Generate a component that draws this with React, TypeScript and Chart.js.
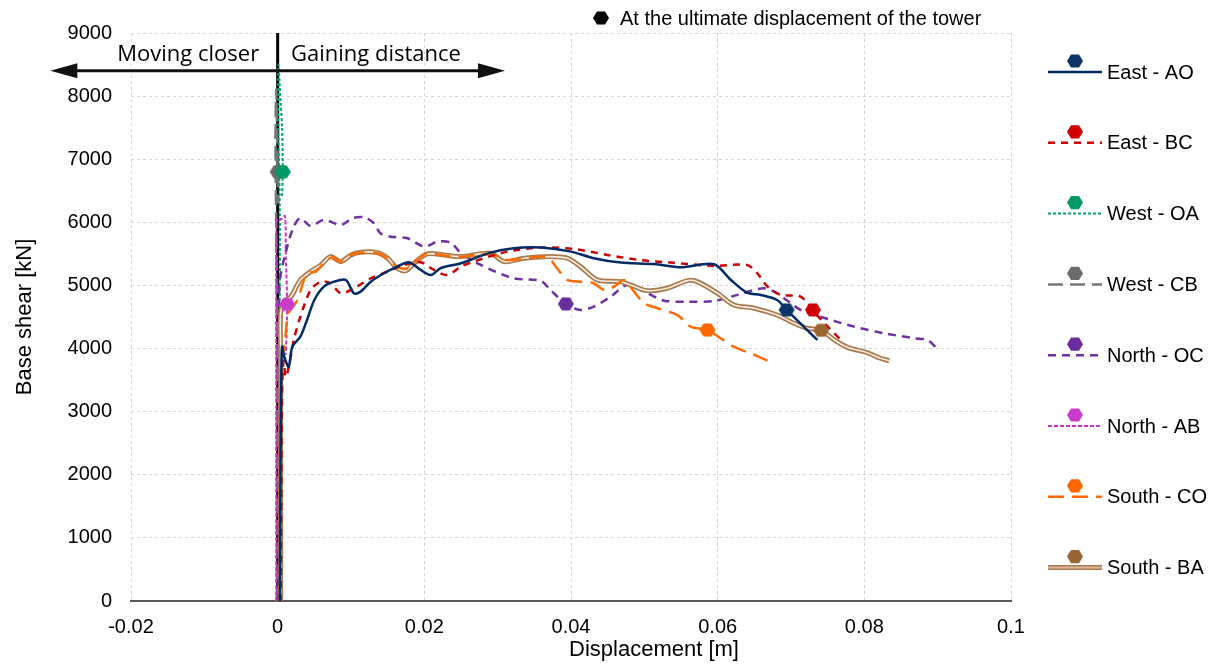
import React, { useEffect, useRef } from "react";
import { Chart, registerables } from "chart.js";
Chart.register(...registerables);

type Pt = [number, number];

const xTicks = [-0.02, 0, 0.02, 0.04, 0.06, 0.08, 0.1];
const yTicks = [0, 1000, 2000, 3000, 4000, 5000, 6000, 7000, 8000, 9000];

const seriesNames = ["East - AO", "East - BC", "West - OA", "West - CB", "North - OC", "North - AB", "South - CO", "South - BA"];

const eastAO: Pt[] = [[0.0003,0],[0.0004,2500],[0.0005,3600],[0.0006,4030],[0.0009,3870],[0.0015,3713],[0.002,4030],[0.0031,4190],[0.004,4453],[0.005,4770],[0.0063,4981],[0.0077,5060],[0.0093,5087],[0.0104,4876],[0.0113,4902],[0.0127,5060],[0.0145,5193],[0.0163,5298],[0.0179,5368],[0.0195,5246],[0.0209,5166],[0.0222,5272],[0.025,5352],[0.029,5520],[0.0322,5590],[0.0359,5600],[0.04,5536],[0.0431,5431],[0.0468,5362],[0.0513,5340],[0.055,5288],[0.0595,5336],[0.0618,5087],[0.064,4886],[0.0659,4850],[0.0681,4770],[0.0694,4612],[0.0736,4136]];
const eastBC: Pt[] = [[0.0004,0],[0.0005,2000],[0.0006,3300],[0.0008,3800],[0.0011,3550],[0.0015,3700],[0.0022,4136],[0.0031,4505],[0.0045,4929],[0.0059,5060],[0.0072,5035],[0.0086,4876],[0.0104,4955],[0.0127,5114],[0.015,5219],[0.0172,5325],[0.0195,5368],[0.0213,5246],[0.0231,5166],[0.025,5298],[0.0267,5377],[0.0313,5536],[0.0359,5600],[0.0404,5578],[0.045,5483],[0.0495,5400],[0.0536,5362],[0.0595,5310],[0.064,5325],[0.0654,5193],[0.0668,4981],[0.0686,4850],[0.0713,4822],[0.0729,4612],[0.075,4347],[0.0768,4136]];
const westOA: Pt[] = [[0.0002,0],[0.0002,3000],[0.0003,6000],[0.0001,7500],[0.0001,8500],[0.0004,7900],[0.0006,7500],[0.0007,6800],[0.0006,6400]];
const westCB: Pt[] = [[-0.0001,0],[-0.0001,4000],[-0.0002,6000],[-0.0003,7200],[-0.0002,8100],[-0.0001,7500],[0,6800],[0.0001,6300]];
const northOC: Pt[] = [[0.0001,0],[0.0002,3000],[0.0002,4500],[0.0003,5087],[0.0013,5615],[0.0022,5932],[0.0031,6065],[0.0045,5943],[0.0063,6038],[0.0086,5959],[0.0102,6065],[0.0118,6081],[0.0131,5986],[0.014,5827],[0.0154,5773],[0.0177,5748],[0.02,5615],[0.0218,5694],[0.0236,5678],[0.025,5510],[0.0277,5325],[0.0322,5114],[0.0359,5071],[0.0372,4929],[0.0393,4707],[0.0413,4612],[0.0431,4664],[0.0454,4822],[0.0477,5008],[0.0504,4876],[0.0527,4759],[0.0559,4743],[0.0595,4754],[0.0627,4850],[0.0663,4955],[0.0681,4876],[0.0713,4612],[0.074,4505],[0.0786,4347],[0.0827,4242],[0.0868,4163],[0.0886,4136],[0.09,3989]];
const northAB: Pt[] = [[-0.0002,0],[-0.0002,3000],[-0.0002,5000],[-0.0001,6050],[0.0005,6050],[0.001,6100],[0.0011,5500],[0.0013,4700],[0.0012,4200],[0.0011,3900]];
const southCO: Pt[] = [[0.0003,0],[0.0003,2500],[0.0004,3500],[0.0011,4242],[0.0015,4559],[0.0027,4770],[0.004,5193],[0.0052,5219],[0.0065,5377],[0.0075,5447],[0.0086,5377],[0.01,5483],[0.0113,5520],[0.0136,5510],[0.015,5431],[0.0163,5298],[0.0177,5272],[0.019,5404],[0.0204,5510],[0.0222,5483],[0.0245,5447],[0.0268,5483],[0.029,5499],[0.0313,5404],[0.034,5431],[0.0368,5447],[0.0381,5272],[0.0395,5087],[0.0413,5060],[0.0431,5035],[0.0445,4929],[0.0459,4981],[0.0472,5087],[0.0486,4902],[0.05,4718],[0.0518,4639],[0.0545,4532],[0.0563,4347],[0.0586,4295],[0.0604,4163],[0.0622,4030],[0.065,3899],[0.0668,3808]];
const southBA: Pt[] = [[0.0004,0],[0.0004,2500],[0.0004,4000],[0.0004,4564],[0.0009,4750],[0.0018,4822],[0.0031,5087],[0.0045,5219],[0.0059,5325],[0.0072,5457],[0.0086,5377],[0.01,5483],[0.0113,5526],[0.0136,5520],[0.015,5431],[0.0163,5272],[0.0175,5235],[0.0186,5352],[0.0204,5499],[0.0227,5483],[0.025,5457],[0.029,5510],[0.0309,5377],[0.0336,5431],[0.0372,5457],[0.0395,5431],[0.0413,5298],[0.0436,5087],[0.0468,5060],[0.0481,5008],[0.0504,4918],[0.0531,4955],[0.0559,5076],[0.0572,5060],[0.06,4876],[0.0622,4691],[0.065,4639],[0.0681,4532],[0.0704,4401],[0.0722,4322],[0.0741,4290],[0.0759,4136],[0.0777,4020],[0.0804,3935],[0.0822,3846],[0.0834,3808]];

const ultimateX = [0.0694, 0.073, 0.0007, 0, 0.0393, 0.0013, 0.0586, 0.0741];
const ultimateY = [4612, 4612, 6800, 6800, 4707, 4700, 4295, 4290];

const lineColors = ["#002b66", "#cc0000", "#00a36c", "#777777", "#7030a0", "#cc33cc", "#ff6a00", "#a87a4c"];
const markerColors = ["#0b3467", "#d00000", "#009966", "#6b6b6b", "#6a2d9e", "#cc3acc", "#ff6600", "#996633"];
const lineDashes: number[][] = [[], [7, 6], [3, 2], [15, 7], [8, 6], [4, 2], [16, 8], []];
const lineWidths = [2.5, 2.5, 2, 2.5, 2.5, 2, 2.5, 5];
const brownInner = "#f6ede4";

const arrowY = 8400;
const arrowLeft = -0.031;
const arrowRight = 0.031;
const leftLabel = "Moving closer";
const rightLabel = "Gaining distance";
const leftLabelX = -0.0122;
const rightLabelX = 0.0134;
const labelY = 8560;
const topLegendText = "At the ultimate displacement of the tower";
const xTitle = "Displacement [m]";
const yTitle = "Base shear [kN]";

const FONT = "'Liberation Sans', Arial, sans-serif";

function hexPath(g: CanvasRenderingContext2D, cx: number, cy: number, r: number) {
  g.beginPath();
  for (let i = 0; i < 6; i++) {
    const a = (Math.PI / 3) * i;
    const px = cx + r * Math.cos(a);
    const py = cy + r * Math.sin(a) * 0.95;
    if (i === 0) g.moveTo(px, py);
    else g.lineTo(px, py);
  }
  g.closePath();
}

function hexImage(color: string) {
  const c = document.createElement("canvas");
  c.width = 20;
  c.height = 20;
  const g = c.getContext("2d")!;
  hexPath(g, 10, 10, 8);
  g.fillStyle = color;
  g.fill();
  return c;
}

const allSeries = [eastAO, eastBC, westOA, westCB, northOC, northAB, southCO, southBA];

const overlayPlugin = {
  id: "overlay",
  beforeDatasetsDraw(chart: any) {
    const { ctx, scales } = chart;
    const x = scales.x, y = scales.y;
    ctx.save();
    ctx.strokeStyle = "#000";
    ctx.lineWidth = 3;
    ctx.beginPath();
    ctx.moveTo(x.getPixelForValue(0), y.getPixelForValue(0));
    ctx.lineTo(x.getPixelForValue(0), y.getPixelForValue(9000));
    ctx.stroke();
    ctx.restore();
  },
  afterDraw(chart: any) {
    const { ctx, scales, chartArea } = chart;
    const x = scales.x, y = scales.y;
    ctx.save();
    // double arrow
    const ay = y.getPixelForValue(arrowY);
    const x1 = x.getPixelForValue(arrowLeft);
    const x2 = x.getPixelForValue(arrowRight);
    const head = 27, hh = 7.5;
    ctx.strokeStyle = "#111";
    ctx.fillStyle = "#111";
    ctx.lineWidth = 3;
    ctx.beginPath();
    ctx.moveTo(x1 + head - 2, ay);
    ctx.lineTo(x2 - head + 2, ay);
    ctx.stroke();
    ctx.beginPath();
    ctx.moveTo(x1, ay);
    ctx.lineTo(x1 + head, ay - hh);
    ctx.lineTo(x1 + head, ay + hh);
    ctx.closePath();
    ctx.fill();
    ctx.beginPath();
    ctx.moveTo(x2, ay);
    ctx.lineTo(x2 - head, ay - hh);
    ctx.lineTo(x2 - head, ay + hh);
    ctx.closePath();
    ctx.fill();
    // labels
    ctx.font = "22px 'Open Sans', sans-serif";
    ctx.textAlign = "center";
    ctx.textBaseline = "alphabetic";
    ctx.fillStyle = "#000";
    const ly = y.getPixelForValue(labelY);
    ctx.fillText(leftLabel, x.getPixelForValue(leftLabelX), ly);
    ctx.fillText(rightLabel, x.getPixelForValue(rightLabelX), ly);

    // x axis title
    ctx.font = "22px " + FONT;
    ctx.textAlign = "center";
    ctx.textBaseline = "middle";
    ctx.fillText(xTitle, 654, 650);

    // top legend
    ctx.fillStyle = "#000";
    hexPath(ctx, 601, 18, 8);
    ctx.fill();
    ctx.font = "20px " + FONT;
    ctx.textAlign = "left";
    ctx.textBaseline = "middle";
    ctx.fillText(topLegendText, 620, 19);

    // right legend
    const r = chartArea.right;
    for (let i = 0; i < seriesNames.length; i++) {
      const ly2 = 72 + 70.8 * i;
      const lx1 = r + 37, lx2 = r + 91;
      ctx.save();
      ctx.lineCap = "butt";
      if (i === 7) {
        ctx.strokeStyle = lineColors[7];
        ctx.lineWidth = 5;
        ctx.beginPath(); ctx.moveTo(lx1, ly2); ctx.lineTo(lx2, ly2); ctx.stroke();
        ctx.strokeStyle = "#d9b99a";
        ctx.lineWidth = 2;
        ctx.beginPath(); ctx.moveTo(lx1, ly2); ctx.lineTo(lx2, ly2); ctx.stroke();
      } else {
        ctx.strokeStyle = lineColors[i];
        ctx.lineWidth = lineWidths[i];
        ctx.setLineDash(lineDashes[i]);
        ctx.beginPath(); ctx.moveTo(lx1, ly2); ctx.lineTo(lx2, ly2); ctx.stroke();
      }
      ctx.restore();
      ctx.fillStyle = markerColors[i];
      hexPath(ctx, r + 64, ly2 - 11, 8);
      ctx.fill();
      ctx.fillStyle = "#000";
      ctx.font = "20px " + FONT;
      ctx.textAlign = "left";
      ctx.textBaseline = "middle";
      ctx.fillText(seriesNames[i], r + 96, ly2 + 1);
    }
    ctx.restore();
  },
};

export default function App() {
  const ref = useRef<HTMLCanvasElement | null>(null);
  useEffect(() => {
    if (!ref.current) return;
    const toXY = (d: Pt[]) => d.map(([a, b]) => ({ x: a, y: b }));
    const markerSets = seriesNames.map((n, i) => ({
      label: n + " ultimate",
      data: [{ x: ultimateX[i], y: ultimateY[i] }],
      pointStyle: hexImage(markerColors[i]),
      pointRadius: 8,
      showLine: false,
      borderColor: markerColors[i],
      backgroundColor: markerColors[i],
    }));
    const lineSet = (i: number) => ({
      label: seriesNames[i],
      data: toXY(allSeries[i]),
      showLine: true,
      borderColor: lineColors[i],
      backgroundColor: lineColors[i],
      borderWidth: lineWidths[i],
      borderDash: lineDashes[i],
      pointRadius: 0,
      tension: 0.3,
      fill: false,
    });
    const baInner = {
      label: "South - BA inner",
      data: toXY(southBA),
      showLine: true,
      borderColor: brownInner,
      borderWidth: 1.6,
      pointRadius: 0,
      tension: 0.3,
      fill: false,
    };
    const datasets: any[] = [
      ...markerSets,
      lineSet(0),
      lineSet(1),
      lineSet(6),
      baInner,
      lineSet(7),
      lineSet(4),
      lineSet(5),
      lineSet(2),
      lineSet(3),
    ];
    const chart = new Chart(ref.current, {
      type: "scatter",
      data: { datasets },
      options: {
        animation: false,
        responsive: false,
        maintainAspectRatio: false,
        layout: { padding: { left: 0, top: 33, right: 206, bottom: 0 } },
        plugins: { legend: { display: false }, tooltip: { enabled: false } },
        scales: {
          x: {
            type: "linear",
            min: -0.02,
            max: 0.1,
            afterBuildTicks: (s: any) => { s.ticks = xTicks.map((v) => ({ value: v })); },
            afterFit: (s: any) => { s.height = 67; },
            ticks: { color: "#000", font: { family: FONT, size: 20 }, padding: 14, callback: (v: any) => String(v), maxRotation: 0, autoSkip: false },
            grid: { color: "#d6d6d6", lineWidth: 1, drawTicks: false },
            border: { display: true, color: "#595959", width: 2, dash: [3, 3] },
            title: { display: false },
          },
          y: {
            type: "linear",
            min: 0,
            max: 9000,
            afterBuildTicks: (s: any) => { s.ticks = yTicks.map((v) => ({ value: v })); },
            afterFit: (s: any) => { s.width = 131; },
            ticks: { color: "#000", font: { family: FONT, size: 20 }, padding: 19, callback: (v: any) => String(v), autoSkip: false },
            grid: { color: "#d6d6d6", lineWidth: 1, drawTicks: false },
            border: { display: false, dash: [3, 3] },
            title: { display: true, text: yTitle, color: "#000", font: { family: FONT, size: 22 }, padding: { top: 12, bottom: 0 } },
          },
        },
      },
      plugins: [overlayPlugin],
    } as any);
    return () => chart.destroy();
  }, []);
  return (
    <div style={{ position: "fixed", left: 0, top: 0, width: 1217, height: 668, background: "#fff" }}>
      <canvas ref={ref} width={1217} height={668} style={{ display: "block" }} />
    </div>
  );
}
